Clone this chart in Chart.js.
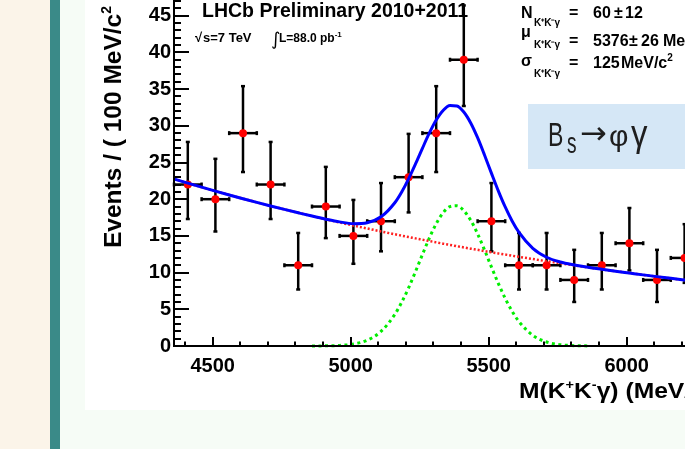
<!DOCTYPE html>
<html>
<head>
<meta charset="utf-8">
<script src="https://cdn.jsdelivr.net/npm/chart.js@4.4.1/dist/chart.umd.min.js"></script>
<style>
  html, body { margin: 0; padding: 0; }
  body { width: 685px; height: 449px; overflow: hidden; position: relative; background: #fbf4e9; }
  #bar { position: absolute; left: 50px; top: 0; width: 10px; height: 449px; background: #3a8a88; }
  #slide { position: absolute; left: 60px; top: 0; width: 625px; height: 449px; background: #f6fcf6; }
  #panel { position: absolute; left: 85px; top: -40px; width: 700px; height: 450px; background: #fff; }
</style>
</head>
<body>
<div id="bar"></div>
<div id="slide"></div>
<div id="panel"><canvas id="massPlot"></canvas></div>
<script>
// binned data, 100 MeV bins
const dataMass = [4410, 4510, 4610, 4710, 4810, 4910, 5010, 5110, 5210, 5310, 5410, 5510, 5610, 5710, 5810, 5910, 6010, 6110, 6210];
const dataCounts = [22, 20, 29, 22, 11, 19, 15, 17, 23, 29, 39, 17, 11, 11, 9, 11, 14, 9, 12];
const errLow = [4.7, 4.4, 5.3, 4.7, 3.3, 4.3, 3.8, 4.1, 4.8, 5.3, 6.3, 4.1, 3.3, 3.3, 3.0, 3.3, 3.7, 3.0, 3.4];
const errHigh = [5.8, 5.5, 6.4, 5.8, 4.4, 5.4, 4.9, 5.2, 5.9, 6.4, 7.4, 5.2, 4.4, 4.4, 4.1, 4.4, 4.8, 4.1, 4.6];
const binHalfWidth = 50;

// fit curves
const curveMass = [4360, 4410, 4460, 4510, 4560, 4610, 4660, 4710, 4760, 4810, 4860, 4910, 4960, 5010, 5060, 5110, 5160,
  5185, 5210, 5235, 5260, 5285, 5310, 5335, 5360, 5385, 5410, 5435, 5460, 5485, 5510, 5535, 5560, 5585,
  5610, 5660, 5710, 5760, 5810, 5860, 5910, 5960, 6010, 6060, 6110, 6160, 6210, 6260, 6310, 6360];
const fitTotal = [22.75, 22.19, 21.64, 21.10, 20.58, 20.07, 19.57, 19.08, 18.61, 18.15, 17.70, 17.28, 16.91, 16.67, 16.80, 17.60, 19.52,
  20.99, 22.78, 24.80, 26.93, 28.99, 30.78, 32.09, 32.76, 32.70, 31.88, 30.39, 28.38, 26.02, 23.55, 21.14, 18.94, 17.03,
  15.47, 13.30, 12.09, 11.44, 11.04, 10.72, 10.45, 10.19, 9.94, 9.69, 9.45, 9.22, 8.99, 8.76, 8.55, 8.34];
const fitBkg = [22.75, 22.19, 21.64, 21.10, 20.58, 20.07, 19.57, 19.08, 18.61, 18.15, 17.70, 17.26, 16.83, 16.41, 16.01, 15.61, 15.22,
  15.03, 14.85, 14.66, 14.48, 14.30, 14.12, 13.94, 13.77, 13.60, 13.43, 13.26, 13.10, 12.93, 12.77, 12.61, 12.46, 12.30,
  12.15, 11.85, 11.55, 11.27, 10.99, 10.71, 10.45, 10.19, 9.94, 9.69, 9.45, 9.22, 8.99, 8.76, 8.55, 8.34];
const fitSig = [null, null, null, null, null, null, null, null, null, null, 0.00, 0.02, 0.08, 0.26, 0.79, 1.99, 4.30,
  5.96, 7.93, 10.14, 12.45, 14.69, 16.66, 18.15, 18.99, 19.10, 18.45, 17.13, 15.28, 13.09, 10.78, 8.53, 6.48, 4.73,
  3.32, 1.45, 0.54, 0.17, 0.05, 0.01, null, null, null, null, null, null, null, null, null, null];

const xTickLabels = [4500, 5000, 5500, 6000];
const yTickLabels = [0, 5, 10, 15, 20, 25, 30, 35, 40, 45, 50];

const OX = 85, OY = -40; // where the canvas sits on the page
const px = x => x - OX;
const py = y => y - OY;
const bold = s => 'bold ' + s + 'px "Liberation Sans"';

function line(ctx, x1, y1, x2, y2) {
  ctx.beginPath(); ctx.moveTo(x1, y1); ctx.lineTo(x2, y2); ctx.stroke();
}

// draws pieces [text, font, dx, dy] one after the other
function rich(ctx, parts, x, y) {
  let cx = x;
  parts.forEach(p => {
    ctx.font = p[1];
    ctx.fillText(p[0], cx + (p[2] || 0), y + (p[3] || 0));
    cx += ctx.measureText(p[0]).width + (p[2] || 0);
  });
}

// one glyph squeezed or stretched
function glyph(ctx, ch, font, x, y, sx, sy) {
  ctx.save();
  ctx.translate(px(x), py(y));
  ctx.scale(sx, sy);
  ctx.font = font;
  ctx.fillText(ch, 0, 0);
  ctx.restore();
}

const errorBars = {
  id: 'errorBars',
  beforeDatasetsDraw(chart) {
    const ctx = chart.ctx, xs = chart.scales.x, ys = chart.scales.y;
    ctx.save();
    ctx.strokeStyle = '#000';
    ctx.lineWidth = 2.5;
    dataMass.forEach((m, i) => {
      const x = xs.getPixelForValue(m);
      const y = ys.getPixelForValue(dataCounts[i]);
      const y1 = ys.getPixelForValue(dataCounts[i] - errLow[i]);
      const y2 = ys.getPixelForValue(dataCounts[i] + errHigh[i]);
      const x1 = xs.getPixelForValue(m - binHalfWidth);
      const x2 = xs.getPixelForValue(m + binHalfWidth);
      line(ctx, x, y1, x, y2);
      line(ctx, x1, y, x2, y);
      line(ctx, x - 2, y1, x + 2, y1);
      line(ctx, x - 2, y2, x + 2, y2);
      line(ctx, x1, y - 2, x1, y + 2);
      line(ctx, x2, y - 2, x2, y + 2);
    });
    ctx.restore();
  }
};

const frame = {
  id: 'frame',
  afterDatasetsDraw(chart) {
    const ctx = chart.ctx, xs = chart.scales.x, ys = chart.scales.y, a = chart.chartArea;
    ctx.save();
    ctx.strokeStyle = '#000';
    ctx.lineWidth = 2;
    const L = Math.round(a.left), B = Math.round(a.bottom);
    for (let v = 0; v <= 50; v++) {
      const y = Math.round(ys.getPixelForValue(v));
      line(ctx, L, y, L + (v % 5 === 0 ? 15 : 7), y);
    }
    for (let m = 4400; m <= 6300; m += 100) {
      const x = Math.round(xs.getPixelForValue(m));
      line(ctx, x, B, x, B - (m % 500 === 0 ? 9 : 4.5));
    }
    line(ctx, L, a.top, L, B + 1);
    line(ctx, L - 1, B, a.right, B);

    ctx.fillStyle = '#000';
    ctx.textAlign = 'left';
    ctx.textBaseline = 'alphabetic';

    // header
    ctx.font = bold(19.5);
    ctx.fillText('LHCb Preliminary 2010+2011', px(202), py(17));
    ctx.font = bold(13);
    ctx.fillText('\u221a', px(195), py(42));
    ctx.fillText('s=7 TeV', px(203), py(42));
    ctx.font = '18px "DejaVu Sans"';
    ctx.fillText('\u222b', px(271), py(45));
    rich(ctx, [['L=88.0 pb', bold(12)], ['-1', bold(8), 0, -5]], px(279), py(42));

    // fit results
    const sub = 'K\u207aK\u207b\u03b3';
    ctx.font = bold(16);
    ctx.fillText('N', px(521), py(18));
    ctx.fillText('\u03bc', px(521), py(37));
    ctx.fillText('\u03c3', px(521), py(66));
    ctx.font = bold(10);
    ctx.fillText(sub, px(534), py(26));
    ctx.fillText(sub, px(534), py(48));
    ctx.fillText(sub, px(534), py(77));
    ctx.font = bold(16);
    ctx.fillText('=', px(569), py(18));
    ctx.fillText('60', px(593), py(18));
    ctx.fillText('\u00b1', px(614), py(18));
    ctx.fillText('12', px(625), py(18));
    ctx.fillText('=', px(569), py(46));
    ctx.fillText('5376', px(593), py(46));
    ctx.fillText('\u00b1', px(629), py(46));
    ctx.fillText('26', px(641), py(46));
    ctx.fillText('MeV/c', px(663), py(46));
    ctx.fillText('=', px(569), py(68));
    ctx.fillText('125', px(593), py(68));
    rich(ctx, [['MeV/c', bold(16)], ['2', bold(10), 0, -7]], px(621), py(68));

    // x title, slightly widened like the original
    ctx.save();
    ctx.translate(px(519), py(398));
    ctx.scale(1.12, 1);
    rich(ctx, [
      ['M(K', bold(22)], ['+', bold(13), 0, -9], ['K', bold(22)], ['-', bold(13), 0, -9],
      ['\u03b3) (MeV/c', bold(22)], ['2', bold(13), 0, -9], [')', bold(22)]
    ], 0, 0);
    ctx.restore();

    // y title
    ctx.save();
    ctx.translate(px(121), py(248));
    ctx.rotate(-Math.PI / 2);
    rich(ctx, [['Events / ( 100 MeV/c', bold(24.5)], ['2', bold(14), 0, -10], [' )', bold(24.5)]], 0, 0);
    ctx.restore();

    // decay label box
    ctx.fillStyle = '#d5e7f6';
    ctx.fillRect(px(528), py(104), 200, 65);
    ctx.fillStyle = '#1e1e1e';
    glyph(ctx, 'B', '33px "Liberation Sans"', 548, 146, 0.7, 1);
    glyph(ctx, 's', '29px "Liberation Sans"', 567, 153, 0.66, 1);
    glyph(ctx, '\u2192', '32px "DejaVu Sans"', 580, 144, 1, 1);
    glyph(ctx, '\u03c6', '30px "Liberation Sans"', 609, 146, 1, 1);
    glyph(ctx, '\u03b3', '30px "Liberation Sans"', 631, 146, 1.1, 1.2);
    ctx.restore();
  }
};

const toXY = (xs, ys) => xs.map((x, i) => ({ x: x, y: ys[i] })).filter(p => p.y !== null);
const tickFont = { family: 'Liberation Sans', weight: 'bold', size: 20 };

new Chart(document.getElementById('massPlot'), {
  type: 'scatter',
  data: {
    datasets: [{
      label: 'total fit',
      data: toXY(curveMass, fitTotal),
      showLine: true,
      borderColor: '#0000ff',
      borderWidth: 3,
      pointRadius: 0,
      cubicInterpolationMode: 'monotone',
      clip: false,
      order: 0
    }, {
      label: 'background',
      data: toXY(curveMass, fitBkg),
      showLine: true,
      borderColor: '#ff2020',
      borderWidth: 2.5,
      borderDash: [2, 2],
      pointRadius: 0,
      cubicInterpolationMode: 'monotone',
      order: 1
    }, {
      label: 'signal',
      data: toXY(curveMass, fitSig),
      showLine: true,
      borderColor: '#00ee00',
      borderWidth: 3,
      borderDash: [3, 3.5],
      pointRadius: 0,
      cubicInterpolationMode: 'monotone',
      clip: false,
      order: 2
    }, {
      label: 'data',
      data: toXY(dataMass, dataCounts),
      pointRadius: 4,
      pointBackgroundColor: '#ff0000',
      pointBorderWidth: 0,
      order: 3
    }]
  },
  options: {
    responsive: true,
    maintainAspectRatio: false,
    animation: false,
    layout: { padding: { top: 19, right: 59, left: 0, bottom: 0 } },
    plugins: { legend: { display: false }, tooltip: { enabled: false } },
    scales: {
      x: {
        type: 'linear',
        min: 4360,
        max: 6360,
        grid: { display: false, drawTicks: false },
        border: { display: false },
        afterBuildTicks: s => { s.ticks = xTickLabels.map(v => ({ value: v })); },
        afterFit: s => { s.height = 64; },
        ticks: { color: '#000', font: tickFont, padding: 8, maxRotation: 0, autoSkip: false, callback: v => String(v) }
      },
      y: {
        min: 0,
        max: 50,
        grid: { display: false, drawTicks: false },
        border: { display: false },
        afterBuildTicks: s => { s.ticks = yTickLabels.map(v => ({ value: v })); },
        afterFit: s => { s.width = 89; },
        ticks: { color: '#000', font: tickFont, padding: 3, autoSkip: false, callback: v => String(v) }
      }
    }
  },
  plugins: [errorBars, frame]
});
</script>
</body>
</html>
